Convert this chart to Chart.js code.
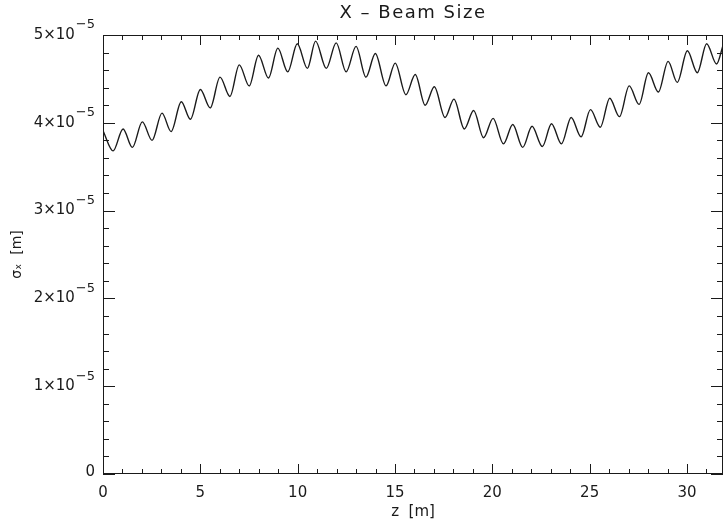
<!DOCTYPE html>
<html>
<head>
<meta charset="utf-8">
<script src="https://cdn.jsdelivr.net/npm/chart.js@4/dist/chart.umd.min.js"></script>
<style>
  html, body { margin: 0; padding: 0; background: #fff; overflow: hidden; }
  #plot { display: block; }
</style>
</head>
<body>
<canvas id="plot" width="725" height="521"></canvas>
<script>
// beam size along z: turning points of the betatron wiggle
const zPos = [0, 0.52, 1.03, 1.51, 2.02, 2.52, 3.03, 3.50, 4.02, 4.49,
  5.00, 5.51, 6.01, 6.52, 7.00, 7.51, 7.99, 8.50, 8.98, 9.49,
  9.98, 10.50, 10.92, 11.47, 11.98, 12.49, 13.00, 13.51, 13.99, 14.54,
  15.01, 15.56, 16.04, 16.55, 17.02, 17.57, 18.03, 18.56, 19.04, 19.55,
  20.04, 20.57, 21.05, 21.56, 22.04, 22.57, 23.04, 23.55, 24.05, 24.56,
  25.04, 25.55, 26.03, 26.53, 27.03, 27.54, 28.02, 28.53, 29.03, 29.50,
  30.02, 30.53, 31.01, 31.52, 31.85];
const sigmaX = [3.91e-5, 3.68e-5, 3.93e-5, 3.72e-5, 4.01e-5, 3.80e-5, 4.11e-5, 3.90e-5, 4.24e-5, 4.04e-5,
  4.38e-5, 4.17e-5, 4.52e-5, 4.30e-5, 4.66e-5, 4.42e-5, 4.77e-5, 4.51e-5, 4.85e-5, 4.58e-5,
  4.90e-5, 4.62e-5, 4.93e-5, 4.62e-5, 4.91e-5, 4.58e-5, 4.87e-5, 4.52e-5, 4.79e-5, 4.42e-5,
  4.68e-5, 4.32e-5, 4.55e-5, 4.20e-5, 4.41e-5, 4.06e-5, 4.27e-5, 3.93e-5, 4.14e-5, 3.83e-5,
  4.05e-5, 3.76e-5, 3.98e-5, 3.72e-5, 3.96e-5, 3.73e-5, 3.99e-5, 3.76e-5, 4.06e-5, 3.84e-5,
  4.15e-5, 3.95e-5, 4.28e-5, 4.07e-5, 4.42e-5, 4.21e-5, 4.57e-5, 4.35e-5, 4.70e-5, 4.46e-5,
  4.82e-5, 4.57e-5, 4.90e-5, 4.67e-5, 4.88e-5];

const yMantissa = ["0", "1", "2", "3", "4", "5"];
const yExponent = "\u22125";
const titleText = "X \u2013 Beam Size";

const ink = "#1a1a1a";
const fontFam = "'DejaVu Sans', sans-serif";

let pts = zPos.map((z, i) => ({ x: z, y: sigmaX[i] }));

// idl style box: inward ticks on all four sides, exponent labels, title
const boxPlugin = {
  id: "box",
  afterDraw(chart) {
    const ctx = chart.ctx;
    const a = chart.chartArea;
    const xs = chart.scales.x;
    const ys = chart.scales.y;
    ctx.save();
    ctx.strokeStyle = ink;
    ctx.lineWidth = 1;
    ctx.strokeRect(a.left + 0.5, a.top + 0.5, a.right - a.left - 1, a.bottom - a.top - 1);

    ctx.beginPath();
    // x ticks, minor every 1 m
    for (let v = 0; v <= xs.max; v += 1) {
      const px = Math.round(xs.getPixelForValue(v)) + 0.5;
      const len = v % 5 === 0 ? 10 : 5;
      ctx.moveTo(px, a.bottom); ctx.lineTo(px, a.bottom - len);
      ctx.moveTo(px, a.top); ctx.lineTo(px, a.top + len);
    }
    // y ticks, 5 minor per major
    for (let k = 0; k <= 25; k++) {
      const py = Math.round(ys.getPixelForValue(k * 0.2e-5)) + 0.5;
      const len = k % 5 === 0 ? 12 : 6;
      ctx.moveTo(a.left, py); ctx.lineTo(a.left + len, py);
      ctx.moveTo(a.right, py); ctx.lineTo(a.right - len, py);
    }
    ctx.stroke();

    // y labels  n×10^-5
    ctx.fillStyle = ink;
    ctx.textBaseline = "middle";
    ys.ticks.forEach((t, i) => {
      const py = ys.getPixelForValue(t.value);
      const rx = a.left - 8;
      if (i === 0) {
        ctx.font = "15px " + fontFam;
        ctx.textAlign = "right";
        ctx.fillText(yMantissa[i], rx, py - 2);
        return;
      }
      ctx.font = "13px " + fontFam;
      ctx.textAlign = "right";
      ctx.fillText(yExponent, rx, py - 10);
      const ew = ctx.measureText(yExponent).width;
      ctx.font = "15px " + fontFam;
      ctx.fillText(yMantissa[i] + "\u00d710", rx - ew - 1, py);
    });

    // title
    ctx.font = "18px " + fontFam;
    ctx.textAlign = "center";
    ctx.letterSpacing = "1.5px";
    ctx.fillText(titleText, (a.left + a.right) / 2, 13);
    ctx.restore();
  }
};

new Chart(document.getElementById("plot"), {
  type: "line",
  data: {
    datasets: [{
      data: pts,
      borderColor: ink,
      borderWidth: 1.4,
      pointRadius: 0,
      fill: false,
      cubicInterpolationMode: "monotone"
    }]
  },
  options: {
    responsive: false,
    animation: false,
    devicePixelRatio: 1,
    layout: { padding: { top: 35, right: 2, left: 0, bottom: 0 } },
    plugins: { legend: { display: false }, tooltip: { enabled: false }, title: { display: false } },
    scales: {
      x: {
        type: "linear",
        min: 0,
        max: 31.85,
        afterFit: (s) => { s.height = 47; },
        grid: { display: false, drawTicks: false },
        border: { display: false },
        ticks: { stepSize: 5, includeBounds: false, padding: 10, color: ink, font: { family: fontFam, size: 15 } },
        title: { display: true, text: "z  [m]", color: ink, font: { family: fontFam, size: 15 }, padding: { top: 3, bottom: 0 } }
      },
      y: {
        type: "linear",
        min: 0,
        max: 5e-5,
        afterFit: (s) => { s.width = 103; },
        grid: { display: false, drawTicks: false },
        border: { display: false },
        ticks: { stepSize: 1e-5, display: false },
        title: { display: true, text: "\u03c3\u2093  [m]", color: ink, font: { family: fontFam, size: 14 }, padding: { top: 9, bottom: 0 } }
      }
    }
  },
  plugins: [boxPlugin]
});
</script>
</body>
</html>
